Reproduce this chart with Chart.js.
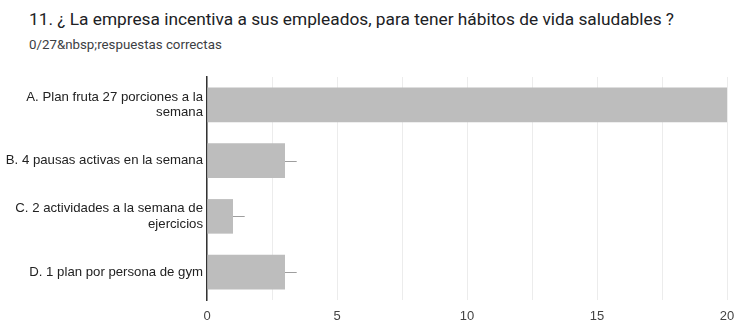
<!DOCTYPE html>
<html>
<head>
<meta charset="utf-8">
<script src="https://cdn.jsdelivr.net/npm/chart.js@4"></script>
<style>
  html, body { margin: 0; padding: 0; background: #fff; }
  #wrap { position: relative; width: 738px; height: 323px; overflow: hidden; }
  #title { position: absolute; left: 29px; top: 9px; font: 17.3px Roboto, "Noto Sans", sans-serif; color: #202124; white-space: nowrap; }
  #sub { position: absolute; left: 29px; top: 37px; font: 13.3px Roboto, "Noto Sans", sans-serif; color: #3c4043; white-space: nowrap; }
  #box { position: absolute; left: 0; top: 0; width: 738px; height: 323px; }
</style>
</head>
<body>
<div id="wrap">
  <div id="title">11. ¿ La empresa incentiva a sus empleados, para tener hábitos de vida saludables ?</div>
  <div id="sub">0/27&amp;nbsp;respuestas correctas</div>
  <div id="box"><canvas id="c" width="738" height="323"></canvas></div>
</div>
<script>
const categories = [
  ["A. Plan fruta 27 porciones a la", "semana"],
  "B. 4 pausas activas en la semana",
  ["C. 2 actividades a la semana de", "ejercicios"],
  "D. 1 plan por persona de gym"
];
const responses = [20, 3, 1, 3];
const whiskerEnds = [20.5, 3.45, 1.45, 3.45];
const tickStep = 2.5;
const labelEvery = 5;

// thin marker line drawn to the right of each bar
const whiskers = {
  id: 'whiskers',
  afterDatasetsDraw(chart) {
    const ctx = chart.ctx, xs = chart.scales.x, meta = chart.getDatasetMeta(0);
    const a = chart.chartArea;
    ctx.save();
    ctx.beginPath();
    ctx.rect(a.left, a.top, a.right - a.left, a.bottom - a.top);
    ctx.clip();
    ctx.strokeStyle = '#9e9e9e';
    ctx.lineWidth = 1;
    meta.data.forEach((bar, i) => {
      const y = Math.round(bar.y) + 0.5;
      ctx.beginPath();
      ctx.moveTo(xs.getPixelForValue(responses[i]), y);
      ctx.lineTo(xs.getPixelForValue(whiskerEnds[i]), y);
      ctx.stroke();
    });
    ctx.restore();
  }
};

new Chart(document.getElementById('c'), {
  type: 'bar',
  data: {
    labels: categories,
    datasets: [{
      data: responses,
      backgroundColor: '#bdbdbd',
      borderWidth: 0,
      barPercentage: 0.62,
      categoryPercentage: 1
    }]
  },
  options: {
    indexAxis: 'y',
    responsive: false,
    animation: false,
    layout: { padding: { top: 77, right: 11, left: 0, bottom: 0 } },
    plugins: { legend: { display: false }, tooltip: { enabled: false } },
    scales: {
      x: {
        min: 0, max: 20,
        ticks: {
          stepSize: tickStep,
          padding: 9,
          color: '#444',
          font: { family: 'Liberation Sans, Arial, sans-serif', size: 13 },
          maxRotation: 0,
          callback: v => (v % labelEvery === 0 ? v : '')
        },
        grid: { color: '#ececec', drawTicks: false },
        border: { display: false },
        afterFit(s) { s.height = 23; s.paddingRight = 0; s.paddingLeft = 0; }
      },
      y: {
        ticks: {
          color: '#222',
          padding: 4,
          font: { family: 'Liberation Sans, Arial, sans-serif', size: 13.2 }
        },
        grid: { display: false, drawTicks: false },
        border: { color: '#333', width: 1.5 },
        afterFit(s) { s.width = 207; }
      }
    }
  },
  plugins: [whiskers]
});
</script>
</body>
</html>
